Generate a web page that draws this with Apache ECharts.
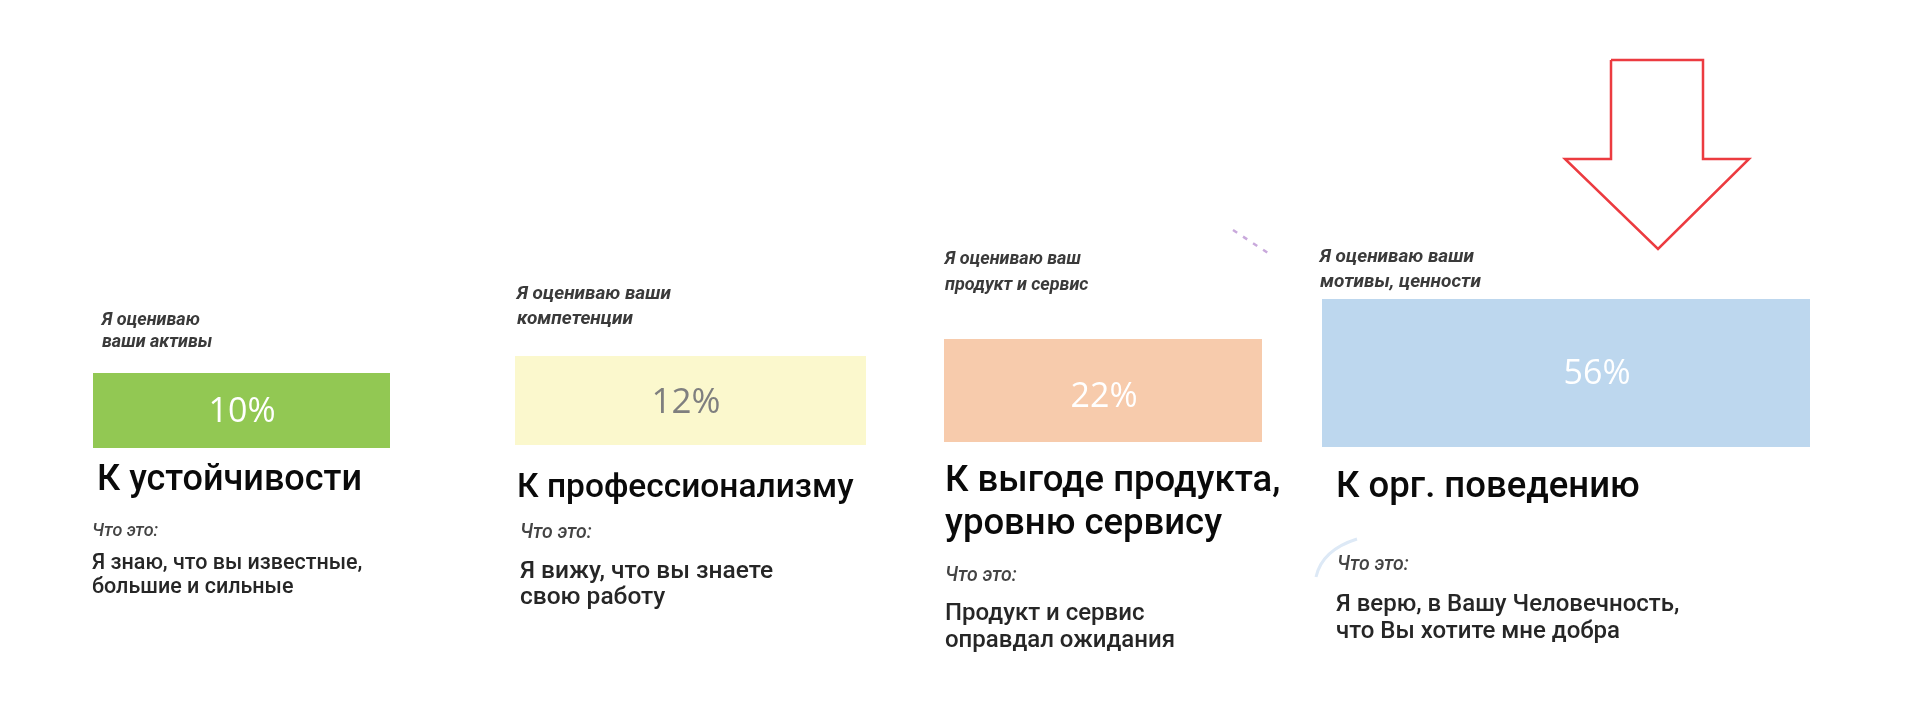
<!DOCTYPE html>
<html>
<head>
  <meta charset="utf-8">
  <title>ECharts</title>
  <script src="https://cdn.jsdelivr.net/npm/echarts@6/dist/echarts.min.js"></script>
  <style>html,body{margin:0;padding:0;background:#fff;}</style>
</head>
<body>
<div id="main" style="width: 1920px;height:714px;"></div>
<script type="text/javascript">
  // данные
  var shares = [10, 12, 22, 56];
  var captions = [
    ['Я оцениваю', 'ваши активы'],
    ['Я оцениваю ваши', 'компетенции'],
    ['Я оцениваю ваш', 'продукт и сервис'],
    ['Я оцениваю ваши', 'мотивы, ценности']
  ];
  var titles = [
    ['К устойчивости'],
    ['К профессионализму'],
    ['К выгоде продукта,', 'уровню сервису'],
    ['К орг. поведению']
  ];
  var whatLabel = 'Что это:';
  var descriptions = [
    ['Я знаю, что вы известные,', 'большие и сильные'],
    ['Я вижу, что вы знаете', 'свою работу'],
    ['Продукт и сервис', 'оправдал ожидания'],
    ['Я верю, в Вашу Человечность,', 'что Вы хотите мне добра']
  ];

  // стили
  var barColors = ['#92c853', '#fbf8cd', '#f7cbac', '#bdd7ee'];
  var pctColors = ['#ffffff', '#7f7f7f', '#ffffff', '#ffffff'];

  // раскладка карточек (в единицах скрытых осей 1920x714)
  // cap/title/desc: [x, y первой строки, шаг строк, размер шрифта]
  var layout = [
    {bar: [93, 390, 373, 448], pct: [242, 412, 34],
     cap: [102, 320, 22.5, 18], title: [97, 481, 0, 36], what: [92, 531, 18], desc: [92, 564, 23.5, 21.5]},
    {bar: [515, 866, 356, 445], pct: [686, 403, 35],
     cap: [517, 294, 25.5, 19], title: [517, 489, 0, 33.5], what: [520, 533, 19.5], desc: [520, 572, 26, 24.5]},
    {bar: [944, 1262, 339, 442], pct: [1104, 397, 34],
     cap: [945, 259, 26, 18], title: [945, 482, 42.5, 36.5], what: [945, 576, 19.5], desc: [945, 614, 26.5, 24]},
    {bar: [1322, 1810, 299, 447], pct: [1597, 374, 34],
     cap: [1320, 257, 25.5, 19], title: [1336, 488, 0, 36.5], what: [1337, 565, 19.5], desc: [1336, 605, 26.5, 24]}
  ];
  var arrowShape = [[1611, 60], [1703, 60], [1703, 159], [1749, 159], [1658, 249],
                    [1565, 159], [1611, 159], [1611, 60]];

  function lines(arr, x, y, lh, style, api) {
    return arr.map(function (t, k) {
      var p = api.coord([x, y + k * lh]);
      var s = Object.assign({text: t, x: p[0], y: p[1], align: 'left', verticalAlign: 'middle'}, style);
      return {type: 'text', style: s};
    });
  }

  function renderCard(params, api) {
    var i = params.dataIndex;
    var L = layout[i];
    var p0 = api.coord([L.bar[0], L.bar[2]]);
    var p1 = api.coord([L.bar[1], L.bar[3]]);
    var pc = api.coord([L.pct[0], L.pct[1]]);
    var children = [
      {type: 'rect', shape: {x: p0[0], y: p0[1], width: p1[0] - p0[0], height: p1[1] - p0[1]},
       style: {fill: barColors[i]}},
      {type: 'text', style: {text: api.value(1) + '%', x: pc[0], y: pc[1], align: 'center', verticalAlign: 'middle',
        fill: pctColors[i], fontSize: L.pct[2], fontFamily: '"Open Sans", sans-serif'}}
    ];
    children = children.concat(lines(captions[i], L.cap[0], L.cap[1], L.cap[2],
      {fill: '#3a3a3a', fontSize: L.cap[3], fontStyle: 'italic', fontWeight: 700, fontFamily: 'Roboto'}, api));
    children = children.concat(lines(titles[i], L.title[0], L.title[1], L.title[2],
      {fill: '#0a0a0a', fontSize: L.title[3], fontWeight: 500, fontFamily: 'Roboto'}, api));
    children = children.concat(lines([whatLabel], L.what[0], L.what[1], 0,
      {fill: '#444', fontSize: L.what[2], fontStyle: 'italic', fontWeight: 500, fontFamily: 'Roboto'}, api));
    children = children.concat(lines(descriptions[i], L.desc[0], L.desc[1], L.desc[2],
      {fill: '#262626', fontSize: L.desc[3], fontWeight: 500, fontFamily: 'Roboto'}, api));
    return {type: 'group', children: children};
  }

  var myChart = echarts.init(document.getElementById('main'));
  var option = {
    animation: false,
    grid: {left: 0, right: 0, top: 0, bottom: 0},
    xAxis: {type: 'value', min: 0, max: 1920, show: false},
    yAxis: {type: 'value', min: 0, max: 714, inverse: true, show: false},
    series: [
      {
        type: 'custom',
        renderItem: renderCard,
        data: shares.map(function (v, i) { return [i, v]; }),
        silent: true
      },
      {
        // красная стрелка-указатель и мелкие штрихи
        type: 'custom',
        silent: true,
        data: [0],
        renderItem: function (params, api) {
          var pts = arrowShape.map(function (p) { return api.coord(p); });
          var a = api.coord([1233, 230]), b = api.coord([1268, 253]);
          var c0 = api.coord([1316, 577]), c1 = api.coord([1322, 550]), c2 = api.coord([1357, 539]);
          return {type: 'group', children: [
            {type: 'polyline', shape: {points: pts}, style: {stroke: '#ec3b40', lineWidth: 2.5, fill: null}},
            {type: 'line', shape: {x1: a[0], y1: a[1], x2: b[0], y2: b[1]},
             style: {stroke: '#c9a9dc', lineWidth: 2.5, lineDash: [5, 7]}},
            {type: 'bezierCurve', shape: {x1: c0[0], y1: c0[1], cpx1: c1[0], cpy1: c1[1], x2: c2[0], y2: c2[1]},
             style: {stroke: '#dde9f6', lineWidth: 3, fill: null}}
          ]};
        }
      }
    ]
  };
  myChart.setOption(option);
</script>
</body>
</html>
